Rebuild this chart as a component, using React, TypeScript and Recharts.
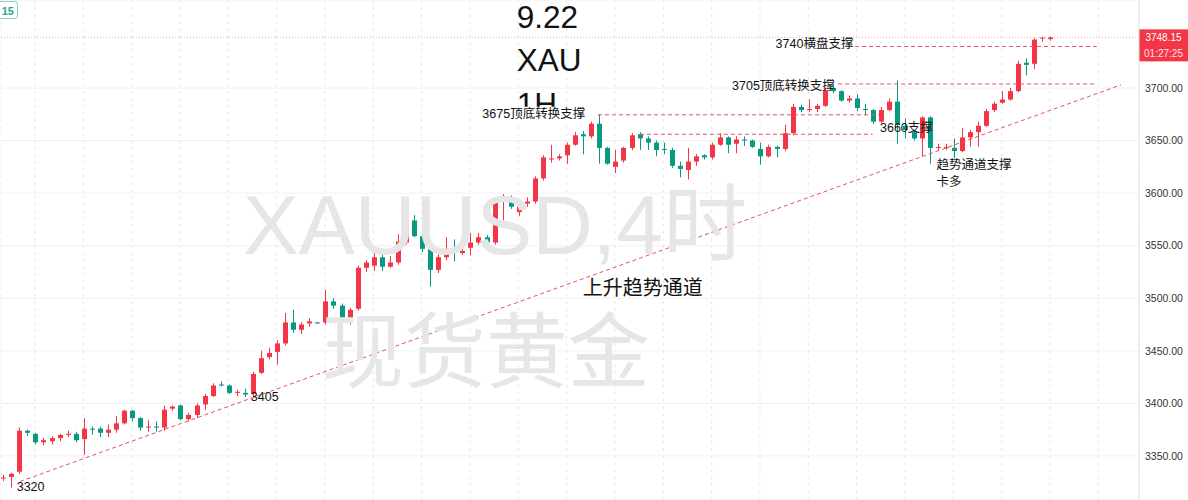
import React from 'react';
import { ComposedChart, Bar, XAxis, YAxis, CartesianGrid, ReferenceLine, ReferenceDot } from 'recharts';

// ---------- data (XAUUSD 1H candles) ----------
const openP = [
  3328.5, 3330, 3335, 3374, 3371, 3363, 3364, 3367, 3370, 3371,
  3366, 3376, 3376, 3372, 3375, 3381, 3393, 3386, 3377, 3378,
  3377, 3395, 3398, 3385, 3389, 3399, 3407, 3418, 3417, 3410,
  3410, 3409, 3429, 3444, 3449, 3457, 3477, 3470, 3476, 3477,
  3477, 3497, 3493, 3477, 3490, 3529, 3531, 3539, 3530, 3534,
  3553, 3574, 3559, 3547, 3527, 3539, 3547, 3543, 3548, 3553,
  3558, 3553, 3595, 3596, 3582, 3590, 3592, 3614, 3632, 3633,
  3636, 3646, 3656, 3654, 3666, 3643, 3625, 3631, 3643, 3656,
  3652, 3648, 3642, 3641, 3626, 3622, 3630, 3636, 3634, 3646,
  3653, 3647, 3651, 3650, 3642, 3635, 3644, 3642, 3657, 3682,
  3679, 3680, 3683, 3700, 3697, 3688, 3690, 3680, 3679, 3668,
  3679, 3687, 3664, 3658, 3652, 3672, 3643, 3643, 3643, 3640,
  3653, 3658, 3664, 3679, 3686, 3689, 3697, 3724, 3723, 3747,
  3746.5,
];
const highP = [
  3332, 3334, 3377, 3375, 3372, 3367, 3369, 3371, 3374, 3373,
  3386, 3378, 3378, 3380, 3388, 3394, 3394, 3387, 3384, 3383,
  3398, 3398, 3399, 3391, 3400, 3409, 3419, 3421, 3418, 3413,
  3414, 3430, 3450, 3453, 3460, 3486, 3489, 3477, 3481, 3477.5,
  3508, 3500, 3495, 3491, 3531, 3536, 3546, 3545, 3540, 3561,
  3577, 3579, 3564, 3549, 3546, 3558, 3556, 3551, 3562, 3562,
  3560, 3595, 3599, 3598, 3593, 3596, 3616, 3636, 3646, 3637,
  3648, 3658, 3659, 3668, 3675, 3644, 3641, 3644, 3657, 3658,
  3654, 3650, 3648, 3643, 3630, 3643, 3637, 3637, 3648, 3657,
  3654, 3654, 3654, 3651, 3648, 3646, 3645, 3665, 3685, 3684,
  3689, 3685, 3700, 3704, 3698, 3693, 3694, 3685, 3680, 3682,
  3690, 3707, 3671, 3660, 3673, 3673, 3647, 3647, 3652, 3662,
  3660, 3668, 3680, 3687, 3697, 3700, 3726, 3728, 3747.5, 3749,
  3749,
];
const lowP = [
  3326, 3320, 3333, 3369, 3361, 3360, 3361, 3364, 3368, 3363,
  3351, 3370, 3368, 3368, 3372, 3380, 3383, 3374, 3373, 3373,
  3374, 3393, 3384, 3383, 3386, 3394, 3406, 3416, 3409, 3407,
  3406, 3405, 3428, 3442, 3437, 3455, 3467, 3466, 3473, 3476,
  3475, 3490, 3470, 3475, 3488, 3525, 3526, 3526, 3529, 3532,
  3551, 3558, 3544, 3511, 3524, 3536, 3535, 3541, 3541, 3551,
  3545, 3551, 3574, 3585, 3578, 3587, 3590, 3612, 3629, 3631,
  3628, 3645, 3637, 3652, 3628, 3627, 3619, 3629, 3641, 3641,
  3641, 3635, 3637, 3624, 3615, 3613, 3626, 3632, 3632, 3645,
  3638, 3638, 3645, 3643, 3627, 3634, 3634, 3640, 3655, 3677,
  3677, 3677, 3682, 3695, 3687, 3686, 3678, 3674, 3666, 3666,
  3678, 3647, 3652, 3650, 3635, 3628, 3640, 3641, 3633, 3639,
  3644, 3644, 3663, 3677, 3685, 3688, 3696, 3712, 3718, 3744,
  3745,
];
const closeP = [
  3329.5, 3333, 3374, 3372, 3363, 3365, 3367, 3370, 3371, 3365,
  3376, 3375, 3372, 3375, 3381, 3393, 3386, 3377, 3378, 3377,
  3394, 3397, 3385, 3389, 3398, 3407, 3417, 3417, 3410, 3411,
  3408.5, 3428, 3443, 3448, 3457, 3477, 3470, 3475, 3478, 3476,
  3497, 3493, 3477, 3489, 3529, 3534, 3539, 3530, 3534, 3554,
  3574, 3559, 3547, 3527, 3539, 3547, 3543, 3545, 3553, 3558,
  3553, 3594, 3596, 3587, 3590, 3592, 3614, 3634, 3633, 3635,
  3646, 3655, 3654, 3666, 3643, 3628, 3630, 3643, 3655, 3652,
  3648, 3641, 3641, 3626, 3623, 3630, 3635, 3634, 3646, 3653,
  3646, 3651, 3650, 3644, 3635, 3644, 3642, 3657, 3682, 3679,
  3680, 3683, 3698, 3697, 3688, 3690, 3681, 3679, 3668, 3679,
  3687, 3665, 3660, 3652, 3672, 3643, 3644, 3644, 3640, 3653,
  3658, 3664, 3678, 3685, 3689, 3697, 3723, 3722, 3746, 3748,
  3748.15,
];

const priceTicks = [3350, 3400, 3450, 3500, 3550, 3600, 3650, 3700];
const gridIdx = [4, 10, 16, 22, 28, 34, 40, 46, 52, 58, 64, 70, 76, 82, 88, 94, 100, 106, 112, 118, 124, 130, 136];
const lastPrice = 3748.15;
const countdown = '01:27:25';

// trend channel line (index, price)
const trendFrom = { x: 2.15, y: 3325.7 };
const trendTo = { x: 138.8, y: 3702.9 };

// horizontal support levels: [price, fromIndex, toIndex]
const supportPrice = [3674.5, 3656, 3703.8, 3739.5];
const supportFrom = [73.9, 79.1, 103.7, 105.8];
const supportTo = [108.9, 108.0, 135.8, 135.8];

// annotation texts anchored to (index, price)
const noteText = ['3320', '3405', '3675顶底转换支撑', '3705顶底转换支撑', '3740横盘支撑', '3660支撑', '趋势通道支撑', '卡多', '上升趋势通道'];
const noteIdx = [1.74, 30.8, 72.3, 103.3, 105.6, 108.9, 115.9, 115.9, 72.0];
const notePrice = [3320.8, 3406.1, 3674.8, 3701.9, 3741.8, 3662.2, 3626.8, 3610.9, 3509.8];
const noteAnchor = ['start', 'start', 'end', 'end', 'end', 'start', 'start', 'start', 'start'];
const noteBg = [false, false, true, false, false, false, false, false, false];

const titleText = ['9.22', 'XAU', '1H'];
const titleIdx = 63.8;
const titlePrice = [3767.1, 3726.6, 3684.8];

const watermarkText = ['XAUUSD,4时', '现货黄金'];
const watermarkIdx = [29.8, 39.6];
const watermarkPrice = [3569.7, 3448.4];

const data = openP.map((o, i) => ({
  i,
  o,
  h: highP[i],
  l: lowP[i],
  c: closeP[i],
  range: [lowP[i], highP[i]],
}));

const UP = '#F23645';
const DOWN = '#089981';
const LINE_RED = '#e8506a';
const LATIN = '"Liberation Sans", Arial, "Noto Sans CJK SC", sans-serif';

const Candle = (props: any) => {
  const { x, y, width, height, payload } = props;
  if (x == null || y == null || !payload) return null;
  const top = Math.min(y, y + height);
  const h = Math.abs(height);
  const hi = payload.h;
  const lo = payload.l;
  const span = hi - lo || 1;
  const py = (v: number) => top + ((hi - v) / span) * h;
  const color = payload.c >= payload.o ? UP : DOWN;
  const cx = Math.round(x + width / 2) + 0.5;
  const bTop = py(Math.max(payload.o, payload.c));
  const bBot = py(Math.min(payload.o, payload.c));
  const bh = Math.max(1, bBot - bTop);
  return (
    <g>
      <line x1={cx} x2={cx} y1={top} y2={top + h} stroke={color} strokeWidth={1} />
      <rect x={cx - width / 2} y={bTop} width={width} height={bh} fill={color} />
    </g>
  );
};

const estWidth = (text: string, size: number) => {
  let w = 0;
  for (const ch of text) w += ch.charCodeAt(0) > 255 ? size : size * 0.556;
  return w;
};

const textLabel = (text: string, anchor: string, size: number, color: string, family: string, bg = false) =>
  (p: any) => {
    const vb = p.viewBox || {};
    const w = estWidth(text, size);
    const left = anchor === 'end' ? vb.x - w : anchor === 'middle' ? vb.x - w / 2 : vb.x;
    return (
      <g>
        {bg ? <rect x={left - 1} y={vb.y - size * 0.62} width={w + 2} height={size * 1.24} fill="#fff" /> : null}
        <text
          x={vb.x}
          y={vb.y}
          textAnchor={anchor as any}
          dominantBaseline="central"
          fontSize={size}
          fill={color}
          fontFamily={family}
        >
          {text}
        </text>
      </g>
    );
  };

const PriceBox = (p: any) => {
  const vb = p.viewBox || {};
  const bx = vb.x + vb.width;
  const by = vb.y - 8;
  return (
    <g>
      <rect x={bx} y={by} width={49} height={32} fill="#F23645" />
      <text x={bx + 24.5} y={by + 8.5} textAnchor="middle" dominantBaseline="central" fontSize={10} fill="#fff" fontFamily={LATIN}>
        {lastPrice.toFixed(2)}
      </text>
      <text x={bx + 24.5} y={by + 24} textAnchor="middle" dominantBaseline="central" fontSize={10} fill="#ffe3e6" fontFamily={LATIN}>
        {countdown}
      </text>
    </g>
  );
};

export default function App() {
  return (
    <div style={{ position: 'absolute', left: 0, top: 0, width: 1188, height: 500, background: '#fff', overflow: 'hidden' }}>
      <ComposedChart width={1188} height={500} data={data} margin={{ top: 0, right: 0, bottom: 0, left: 0 }}>
        <CartesianGrid vertical={false} stroke="#f1f1f1" />
        <CartesianGrid horizontal={false} stroke="#e6e6e6" strokeDasharray="3 4" />
        <XAxis type="number" dataKey="i" domain={[-0.335, 141.05]} ticks={gridIdx} hide allowDataOverflow />
        <YAxis
          orientation="right"
          type="number"
          domain={[3308.1, 3783.7]}
          ticks={priceTicks}
          tickFormatter={(v: number) => v.toFixed(2)}
          width={49}
          tickSize={0}
          tickMargin={6}
          tickLine={false}
          axisLine={{ stroke: '#e3e3e3' }}
          tick={{ fontSize: 10.5, fill: '#333', fontFamily: LATIN }}
          allowDataOverflow
        />
        {watermarkText.map((t, k) => (
          <ReferenceDot
            key={'wm' + k}
            x={watermarkIdx[k]}
            y={watermarkPrice[k]}
            r={0}
            fill="none"
            stroke="none"
            label={textLabel(t, 'start', k === 0 ? 84 : 82, '#e6e6e6', LATIN)}
          />
        ))}
        <Bar dataKey="range" barSize={5} isAnimationActive={false} shape={(p: any) => <Candle {...p} />} />
        <ReferenceLine y={lastPrice} stroke="#f3a3ad" strokeDasharray="1 2" label={PriceBox} />
        <ReferenceLine
          segment={[trendFrom, trendTo]}
          stroke={LINE_RED}
          strokeDasharray="4 3"
        />
        {supportPrice.map((v, k) => (
          <ReferenceLine
            key={'sp' + k}
            segment={[{ x: supportFrom[k], y: v }, { x: supportTo[k], y: v }]}
            stroke={LINE_RED}
            strokeDasharray="4 3"
          />
        ))}
        {titleText.map((t, k) => (
          <ReferenceDot
            key={'tt' + k}
            x={titleIdx}
            y={titlePrice[k]}
            r={0}
            fill="none"
            stroke="none"
            label={textLabel(t, 'start', 31.5, '#111', LATIN)}
          />
        ))}
        {noteText.map((t, k) => (
          <ReferenceDot
            key={'nt' + k}
            x={noteIdx[k]}
            y={notePrice[k]}
            r={0}
            fill="none"
            stroke="none"
            label={textLabel(t, noteAnchor[k], k === 8 ? 20 : 12.5, '#111', LATIN, noteBg[k])}
          />
        ))}
      </ComposedChart>
      <div
        style={{
          position: 'absolute',
          left: -4,
          top: 1,
          width: 22,
          height: 18,
          border: '1px solid #8fd0c4',
          borderRadius: 3,
          color: '#2aa58f',
          fontSize: 11,
          fontWeight: 700,
          fontFamily: LATIN,
          lineHeight: '18px',
          textAlign: 'right',
          paddingRight: 3,
          boxSizing: 'border-box',
          background: '#fff',
        }}
      >
        15
      </div>
    </div>
  );
}
